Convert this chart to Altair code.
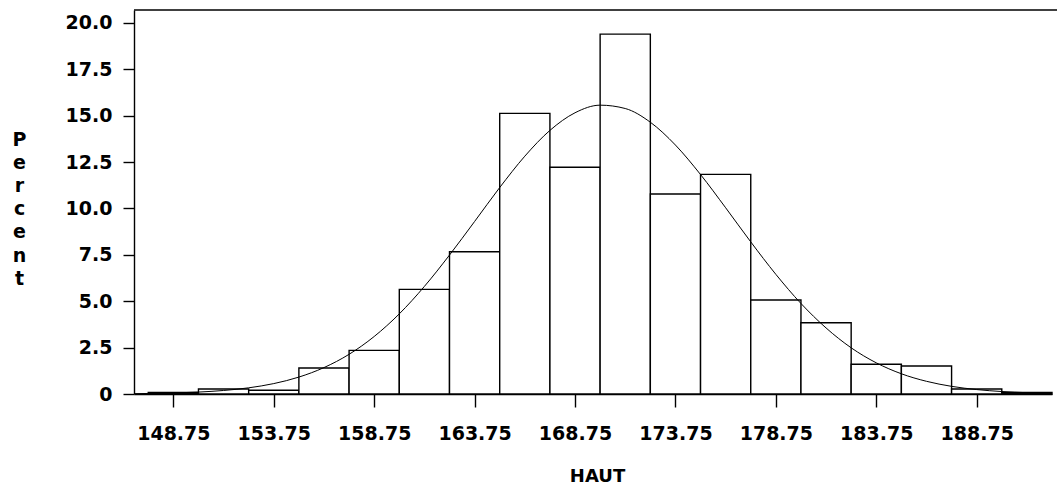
import altair as alt
import pandas as pd

# Histogram bins (percent of observations), bin width 2.5
bin_start = [147.5, 150.0, 152.5, 155.0, 157.5, 160.0, 162.5, 165.0, 167.5,
             170.0, 172.5, 175.0, 177.5, 180.0, 182.5, 185.0, 187.5, 190.0]
percent = [0.08, 0.27, 0.20, 1.40, 2.35, 5.64, 7.67, 15.13, 12.22,
           19.40, 10.78, 11.84, 5.07, 3.84, 1.60, 1.51, 0.27, 0.08]
bin_width = 2.5

# Fitted normal curve
curve_x = [146.25, 147.5, 148.75, 150.0, 151.25, 152.5, 153.75, 155.0, 156.25,
           157.5, 158.75, 160.0, 161.25, 162.5, 163.75, 165.0, 166.25, 167.5,
           168.75, 170.0, 171.25, 172.5, 173.75, 175.0, 176.25, 177.5, 178.75,
           180.0, 181.25, 182.5, 183.75, 185.0, 186.25, 187.5, 188.75, 190.0,
           191.25, 192.5]
curve_y = [0.014, 0.028, 0.055, 0.104, 0.19, 0.333, 0.561, 0.912, 1.424,
           2.14, 3.10, 4.32, 5.80, 7.49, 9.30, 11.13, 12.82, 14.21,
           15.16, 15.57, 15.39, 14.65, 13.42, 11.83, 10.04, 8.20, 6.45,
           4.88, 3.56, 2.49, 1.68, 1.09, 0.684, 0.412, 0.239, 0.133,
           0.0715, 0.037]

x_ticks = [148.75, 153.75, 158.75, 163.75, 168.75, 173.75, 178.75, 183.75, 188.75]
y_ticks = [0, 2.5, 5.0, 7.5, 10.0, 12.5, 15.0, 17.5, 20.0]

bars_df = pd.DataFrame({
    "start": bin_start,
    "end": [s + bin_width for s in bin_start],
    "pct": percent,
})
curve_df = pd.DataFrame({"x": curve_x, "y": curve_y})

FONT = "DejaVu Sans"
x_scale = alt.Scale(domain=[146.79, 192.5], nice=False, zero=False)
y_scale = alt.Scale(domain=[0, 20.7], nice=False)

x_axis = alt.Axis(values=x_ticks, format=".2f", title="HAUT",
                  tickSize=13, labelPadding=17,
                  titleX=463, titleY=73, titleBaseline="top",
                  titleAlign="center",
                  titleFontSize=18, titleFontWeight="bold",
                  labelFlush=False, labelOverlap=False)
y_axis = alt.Axis(values=y_ticks,
                  labelExpr="datum.value == 0 ? '0' : format(datum.value, '.1f')",
                  title=["P", "e", "r", "c", "e", "n", "t"],
                  titleAngle=0, titleX=-115, titleY=135,
                  titleAlign="center", titleBaseline="alphabetic",
                  titleLineHeight=23.2, titleFontSize=19,
                  titleFontWeight="bold",
                  tickSize=11, labelPadding=11,
                  labelFlush=False, labelOverlap=False)

bars = alt.Chart(bars_df).mark_rect(
    fill="white", stroke="black", strokeWidth=1.4
).encode(
    x=alt.X("start:Q", scale=x_scale, axis=x_axis),
    x2="end:Q",
    y=alt.Y("pct:Q", scale=y_scale, axis=y_axis),
    y2=alt.datum(0),
)

curve = alt.Chart(curve_df).mark_line(
    color="black", strokeWidth=1, interpolate="monotone", clip=True
).encode(
    x=alt.X("x:Q", scale=x_scale, axis=x_axis),
    y=alt.Y("y:Q", scale=y_scale, axis=y_axis),
)

top_line = alt.Chart(pd.DataFrame({"a": [0]})).mark_rule(
    color="black", strokeWidth=1.4
).encode(
    x=alt.value(0), x2=alt.value(923), y=alt.value(0)
)

chart = alt.layer(bars, curve, top_line).properties(
    width=918, height=384,
    autosize=alt.AutoSizeParams(type="none"),
    padding={"left": 134, "top": 10, "right": 5, "bottom": 99},
    background="white",
).configure_view(
    stroke=None
).configure_axis(
    grid=False,
    domainColor="black", domainWidth=1.4,
    tickColor="black", tickWidth=1.4,
    labelFont=FONT, labelFontSize=19, labelFontWeight="bold", labelColor="black",
    titleFont=FONT, titleColor="black",
)

chart.save("out.html", embed_options={"renderer": "svg", "actions": False})
